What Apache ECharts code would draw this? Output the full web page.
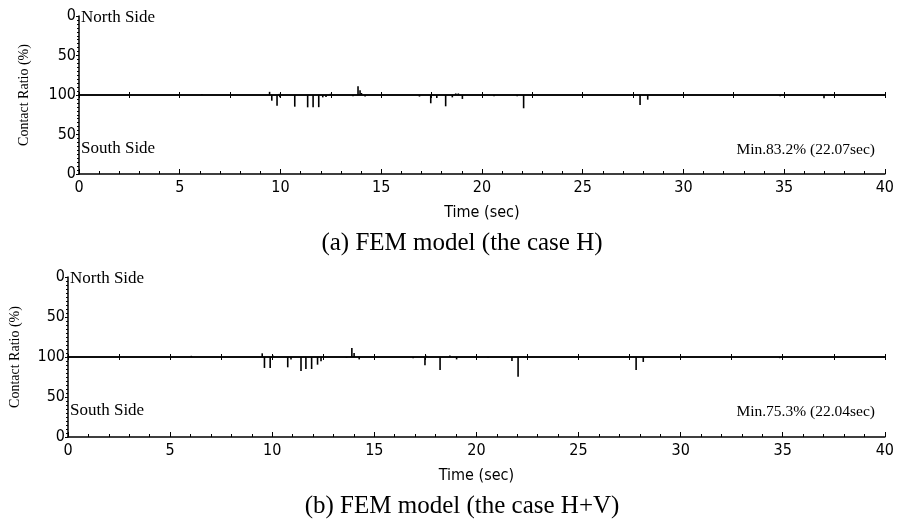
<!DOCTYPE html>
<html>
<head>
<meta charset="utf-8">
<script src="https://cdn.jsdelivr.net/npm/echarts@6/dist/echarts.min.js"></script>
<style>
  html, body { margin: 0; padding: 0; background: #fff; }
  #chart-container { width: 897px; height: 524px; }
</style>
</head>
<body>
<div id="chart-container"></div>
<script>
// contact ratio (%) spikes: [time sec, ratio %]
const northA = [[6.1, 99], [9.46, 96], [9.95, 98.5], [12.48, 98.5], [13.85, 89], [13.95, 94], [14.02, 97.5], [18.7, 98], [18.83, 98]];
const southA = [[9.57, 92.8], [9.83, 86.5], [9.97, 97], [10.71, 85.2], [11.35, 84.4], [11.62, 84.4], [11.9, 84.6], [12.1, 97], [12.26, 97.5],
  [13.6, 98.5], [14.2, 98], [16.9, 98], [17.46, 89.5], [17.76, 96.2], [18.2, 85.7], [18.53, 97], [19.03, 95], [20.6, 98.5],
  [21.75, 98.5], [22.07, 83.2], [27.85, 87.3], [28.23, 94.1], [34.8, 98.5], [36.98, 96]];
const northB = [[6.04, 98.5], [9.51, 95.4], [10.03, 98], [13.9, 88.8], [14.01, 95], [17.55, 98.5], [18.7, 98]];
const southB = [[9.62, 86.3], [9.9, 86.3], [10.76, 87.1], [10.92, 97], [11.41, 82.5], [11.65, 85], [11.93, 85], [12.22, 90.4],
  [12.39, 94.6], [13.64, 99], [14.26, 97], [16.9, 98.5], [17.48, 89.6], [18.22, 83.8], [19.03, 97], [20.57, 99], [21.74, 95],
  [22.04, 75.3], [27.82, 83.8], [28.17, 93.8], [34.85, 98.5]];

const captions = ['(a) FEM model (the case H)', '(b) FEM model (the case H+V)'];
const minNotes = ['Min.83.2% (22.07sec)', 'Min.75.3% (22.04sec)'];

const grids = [
  { left: 79, top: 16, width: 808, height: 158 },
  { left: 68, top: 277, width: 819, height: 160 }
];
const captionY = [243, 506];

const SERIF = '"Liberation Serif", "DejaVu Serif", serif';
const NARROW = '"Liberation Sans Narrow", "DejaVu Sans Condensed", sans-serif';

function toBars(north, south) {
  return north.map(p => [p[0], 100 - p[1]]).concat(south.map(p => [p[0], -(100 - p[1])]));
}

const xAxes = [];
const yAxes = [];
const series = [];
grids.forEach((g, i) => {
  // bottom time axis
  xAxes.push({
    gridIndex: i, type: 'value', min: 0, max: 40, interval: 5, position: 'bottom',
    name: 'Time (sec)', nameLocation: 'middle', nameGap: 31,
    nameTextStyle: { fontFamily: NARROW, fontSize: 16, color: '#000' },
    axisLine: { onZero: false, lineStyle: { color: '#000', width: 1.5 } },
    axisTick: { inside: true, length: 5, lineStyle: { color: '#000' } },
    minorTick: { show: true, splitNumber: 5, length: 3, lineStyle: { color: '#000' } },
    axisLabel: { fontFamily: NARROW, fontSize: 16, color: '#000', margin: 6 },
    splitLine: { show: false }
  });
  // 100% line, ticks below and above
  [false, true].forEach(up => {
    xAxes.push({
      gridIndex: i, type: 'value', min: 0, max: 40, interval: 2.5, position: up ? 'top' : 'bottom',
      axisLine: { onZero: true, onZeroAxisIndex: i, lineStyle: { color: '#000', width: 1.5 } },
      axisTick: { inside: false, length: 3, lineStyle: { color: '#000' } },
      axisLabel: { show: false },
      splitLine: { show: false }
    });
  });
  yAxes.push({
    gridIndex: i, type: 'value', min: -100, max: 100, interval: 50,
    name: 'Contact Ratio (%)', nameLocation: 'middle', nameGap: i === 0 ? 48 : 46,
    nameTextStyle: { fontFamily: SERIF, fontSize: 14, color: '#000' },
    axisLine: { onZero: false, lineStyle: { color: '#000', width: 1.5 } },
    axisTick: { length: 3, lineStyle: { color: '#000' } },
    minorTick: { show: true, splitNumber: 10, length: 2, lineStyle: { color: '#000' } },
    axisLabel: {
      fontFamily: NARROW, fontSize: 16, color: '#000', margin: 3,
      formatter: v => String(100 - Math.abs(v))
    },
    splitLine: { show: false }
  });
  series.push({
    type: 'bar', xAxisIndex: i * 3, yAxisIndex: i, barWidth: 1.6,
    data: i === 0 ? toBars(northA, southA) : toBars(northB, southB),
    itemStyle: { color: '#000' }, silent: true, animation: false
  });
});

const graphics = [];
grids.forEach((g, i) => {
  graphics.push({
    type: 'text', x: g.left + 2, y: g.top + 2,
    style: { text: 'North Side', font: '17px ' + SERIF, fill: '#000', verticalAlign: 'middle' }
  });
  graphics.push({
    type: 'text', x: g.left + 2, y: g.top + g.height * 0.75 + 14,
    style: { text: 'South Side', font: '17px ' + SERIF, fill: '#000', verticalAlign: 'middle' }
  });
  graphics.push({
    type: 'text', x: 875, y: g.top + g.height * 0.75 + 15,
    style: { text: minNotes[i], font: '15.5px ' + SERIF, fill: '#000', align: 'right', verticalAlign: 'middle' }
  });
  graphics.push({
    type: 'text', x: 462, y: captionY[i],
    style: { text: captions[i], font: '25px ' + SERIF, fill: '#000', align: 'center', verticalAlign: 'middle' }
  });
});

const chart = echarts.init(document.getElementById('chart-container'));
chart.setOption({
  backgroundColor: '#fff',
  animation: false,
  grid: grids,
  xAxis: xAxes,
  yAxis: yAxes,
  series: series,
  graphic: { elements: graphics }
});
</script>
</body>
</html>
